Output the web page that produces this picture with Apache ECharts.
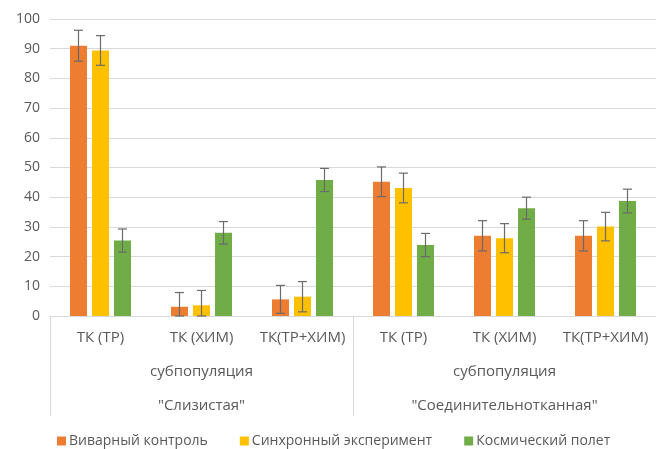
<!DOCTYPE html>
<html>
  <head>
    <title></title>
    <meta charset="UTF-8" />
    <script src="https://cdn.jsdelivr.net/npm/echarts@6/dist/echarts.min.js"></script>
    <style>body{margin:0;background:#fff}</style>
  </head>
  <body>
    <div id="main"></div>
    <script>
      const width = 656;
      const height = 449;
      const main = document.getElementById('main');
      main.style.width = `${width}px`;
      main.style.height = `${height}px`;

      // data
      const categories = ['ТК (ТР)', 'ТК (ХИМ)', 'ТК(ТР+ХИМ)', 'ТК (ТР)', 'ТК (ХИМ)', 'ТК(ТР+ХИМ)'];
      const groups = ['субпопуляция\n"Слизистая"', 'субпопуляция\n"Соединительнотканная"'];
      const seriesNames = ['Виварный контроль', 'Синхронный эксперимент', 'Космический полет'];
      const vivarium = [91, 3.1, 5.6, 45.2, 27, 27];
      const vivariumErr = [5.2, 4.8, 4.7, 5, 5.1, 5.1];
      const sync = [89.4, 3.6, 6.5, 43.1, 26.2, 30.1];
      const syncErr = [5, 5, 5.1, 5, 4.9, 4.8];
      const flight = [25.4, 28, 45.8, 23.9, 36.3, 38.7];
      const flightErr = [3.9, 3.8, 3.9, 3.9, 3.7, 4];

      const colors = ['#ED7D31', '#FFC000', '#70AD47'];
      const textColor = '#595959';
      const font = 'Open Sans';
      const barWidth = 17;
      const barGapPx = 5;

      const errData = (vals, errs) => vals.map((v, i) => [i, Math.max(0, v - errs[i]), v + errs[i]]);

      const errRender = (offset) => (params, api) => {
        const lo = api.coord([api.value(0), api.value(1)]);
        const hi = api.coord([api.value(0), api.value(2)]);
        const x = lo[0] + offset;
        const cap = 4.5;
        const style = { stroke: '#6b6b6b', lineWidth: 1.2 };
        return {
          type: 'group',
          children: [
            { type: 'line', shape: { x1: x, y1: hi[1], x2: x, y2: lo[1] }, style },
            { type: 'line', shape: { x1: x - cap, y1: hi[1], x2: x + cap, y2: hi[1] }, style },
            { type: 'line', shape: { x1: x - cap, y1: lo[1], x2: x + cap, y2: lo[1] }, style }
          ]
        };
      };

      const step = barWidth + barGapPx;
      const values = [vivarium, sync, flight];
      const errs = [vivariumErr, syncErr, flightErr];

      const bars = values.map((vals, i) => ({
        name: seriesNames[i],
        type: 'bar',
        xAxisIndex: 0,
        barWidth: barWidth,
        barGap: (barGapPx / barWidth * 100) + '%',
        itemStyle: { color: colors[i] },
        data: vals
      }));
      const errorBars = values.map((vals, i) => ({
        type: 'custom',
        xAxisIndex: 0,
        renderItem: errRender((i - 1) * step),
        data: errData(vals, errs[i]),
        z: 5,
        silent: true
      }));

      const myChart = echarts.init(main);
      const option = {
        animation: false,
        color: colors,
        textStyle: { fontFamily: font },
        grid: { left: 50, right: 0, top: 19, bottom: 133 },
        legend: {
          data: seriesNames,
          bottom: 1,
          left: 57,
          padding: 0,
          icon: 'rect',
          itemWidth: 9,
          itemHeight: 9,
          itemGap: 32,
          textStyle: { color: textColor, fontSize: 14, fontFamily: font, padding: [0, 0, 0, -2] }
        },
        xAxis: [
          {
            type: 'category',
            data: categories,
            position: 'bottom',
            axisLine: { lineStyle: { color: '#d9d9d9' } },
            axisTick: { show: false },
            axisLabel: { color: textColor, fontSize: 15, margin: 14, interval: 0 }
          },
          {
            type: 'category',
            data: groups,
            position: 'bottom',
            axisLine: { show: false },
            axisTick: { show: true, length: 100, lineStyle: { color: '#d9d9d9' } },
            axisLabel: { color: textColor, fontSize: 15, margin: 39, lineHeight: 34, interval: 0 }
          }
        ],
        yAxis: {
          type: 'value',
          min: 0,
          max: 100,
          interval: 10,
          axisLine: { show: false },
          axisTick: { show: false },
          axisLabel: { color: textColor, fontSize: 14, margin: 10 },
          splitLine: { lineStyle: { color: '#d9d9d9' } }
        },
        series: [...bars, ...errorBars]
      };
      myChart.setOption(option);
    </script>
  </body>
</html>
